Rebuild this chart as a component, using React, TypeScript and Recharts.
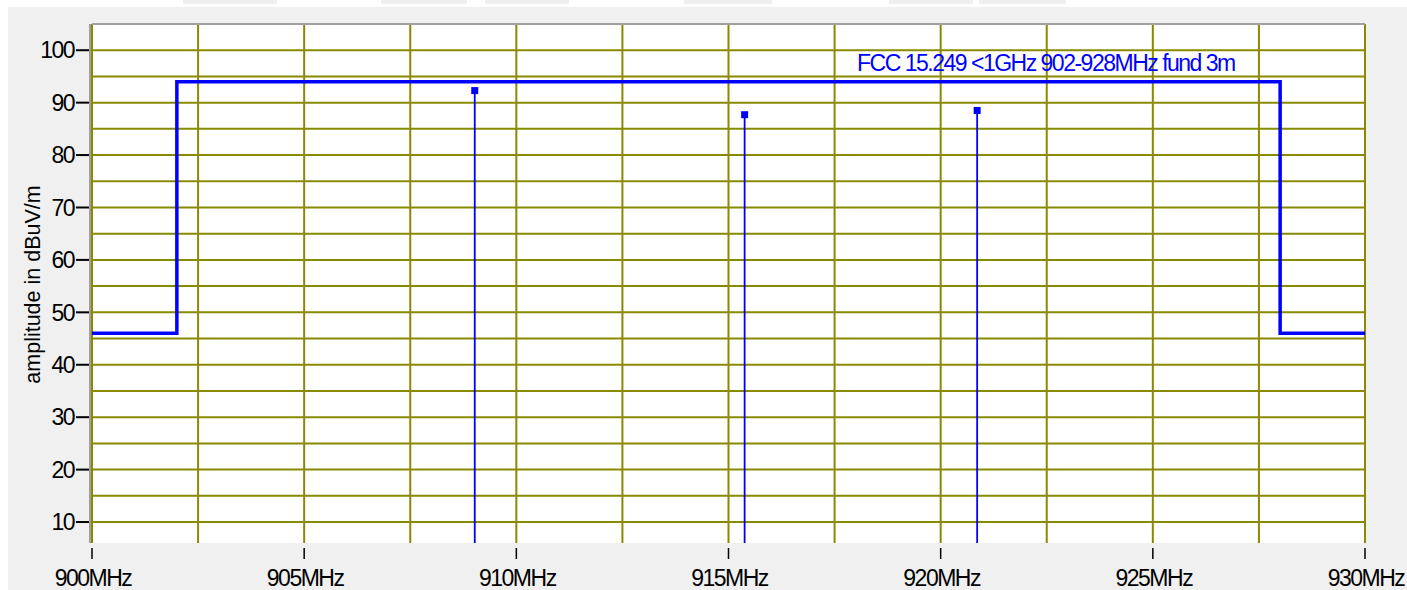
import React from 'react';
import {
  ComposedChart,
  Line,
  Scatter,
  XAxis,
  YAxis,
  CartesianGrid,
  ReferenceLine,
  Label,
} from 'recharts';

// ---- data ----
const limitFreq = [900, 902, 902, 928, 928, 930];
const limitLevel = [46, 46, 94, 94, 46, 46];
const peakFreq = [909.02, 915.38, 920.86];
const peakLevel = [92.3, 87.7, 88.5];
const xTicks = [900, 905, 910, 915, 920, 925, 930];
const yTicks = [10, 20, 30, 40, 50, 60, 70, 80, 90, 100];
const xGrid = [900, 902.5, 905, 907.5, 910, 912.5, 915, 917.5, 920, 922.5, 925, 927.5, 930];
const yGrid = [10, 15, 20, 25, 30, 35, 40, 45, 50, 55, 60, 65, 70, 75, 80, 85, 90, 95, 100];
const xDomain = [900, 930];
const yDomain = [6, 105];
const limitLabel = 'FCC 15.249 <1GHz 902-928MHz fund 3m';
const limitLabelFreq = [918.03];
const limitLabelLevel = [96.0];
const yAxisTitle = 'amplitude in dBuV/m';
const xUnit = 'MHz';

const limitData = limitFreq.map((f, i) => ({ f, v: limitLevel[i] }));
const peakData = peakFreq.map((f, i) => ({ f, v: peakLevel[i] }));
const labelData = limitLabelFreq.map((f, i) => ({ f, v: limitLabelLevel[i] }));

const FONT = "'Liberation Sans', Arial, Helvetica, sans-serif";
const BLUE = '#0000ff';
const GRID = '#8a8a00';

const XTick = (props: any) => {
  const { x, y, payload } = props;
  return (
    <g>
      <line x1={x} x2={x} y1={y + 5} y2={y + 16} stroke="#000" strokeWidth={1.5} />
      <text
        x={x + 1}
        y={y + 43}
        textAnchor="middle"
        fontSize={23}
        letterSpacing={-1.5}
        fontFamily={FONT}
        fill="#000"
      >
        {`${payload.value}${xUnit}`}
      </text>
    </g>
  );
};

const YTick = (props: any) => {
  const { x, y, payload } = props;
  return (
    <g>
      <line x1={x - 16} x2={x - 3} y1={y} y2={y} stroke="#000" strokeWidth={2} />
      <text
        x={x - 18}
        y={y}
        dy="0.36em"
        textAnchor="end"
        fontSize={23}
        letterSpacing={-1.5}
        fontFamily={FONT}
        fill="#000"
      >
        {payload.value}
      </text>
    </g>
  );
};

const PeakMarker = (props: any) => {
  const { cx, cy } = props;
  return <rect x={cx - 3.5} y={cy - 3.5} width={7} height={7} fill={BLUE} />;
};

const LimitText = (props: any) => {
  const { cx, cy } = props;
  return (
    <text x={cx} y={cy} fontSize={23} letterSpacing={-1.5} fontFamily={FONT} fill={BLUE}>
      {limitLabel}
    </text>
  );
};

const YTitle = (props: any) => {
  const vb = props.viewBox || { x: 12, y: 24, width: 80, height: 519 };
  const cx = vb.x + 20;
  const cy = vb.y + vb.height / 2 + 1;
  return (
    <text
      x={cx}
      y={cy}
      transform={`rotate(-90, ${cx}, ${cy})`}
      textAnchor="middle"
      dy="0.36em"
      fontSize={21.5}
      fontFamily={FONT}
      fill="#000"
    >
      {yAxisTitle}
    </text>
  );
};

const tabs = [
  [183, 94],
  [381, 86],
  [485, 84],
  [684, 88],
  [889, 84],
  [979, 87],
];

export default function App() {
  return (
    <div style={{ position: 'absolute', left: 0, top: 0, width: 1407, height: 590, background: '#fff', overflow: 'hidden' }}>
      {tabs.map(([l, w], i) => (
        <div key={i} style={{ position: 'absolute', left: l, top: 0, width: w, height: 4, background: '#efefef' }} />
      ))}
      <div style={{ position: 'absolute', left: 8, top: 7, width: 1399, height: 583, background: '#f0f0f0' }} />
      <div style={{ position: 'absolute', left: 0, top: 0 }}>
        <ComposedChart
          width={1407}
          height={590}
          margin={{ top: 24, right: 42, bottom: 0, left: 12 }}
        >
          <CartesianGrid
            horizontalValues={yGrid}
            verticalValues={xGrid}
            stroke={GRID}
            strokeWidth={2}
            fill="#ffffff"
            fillOpacity={1}
          />
          <XAxis
            type="number"
            dataKey="f"
            domain={xDomain}
            ticks={xTicks}
            allowDataOverflow
            height={47}
            tickSize={0}
            tickMargin={0}
            axisLine={false}
            tickLine={false}
            tick={<XTick />}
            interval={0}
          />
          <YAxis
            type="number"
            dataKey="v"
            domain={yDomain}
            ticks={yTicks}
            allowDataOverflow
            width={80}
            tickSize={0}
            tickMargin={0}
            axisLine={{ stroke: '#a0a0a0', strokeWidth: 2, transform: 'translate(-2,0)' }}
            tickLine={false}
            tick={<YTick />}
            interval={0}
          >
            <Label content={<YTitle />} />
          </YAxis>
          <ReferenceLine y={yDomain[1]} stroke="#a0a0a0" strokeWidth={2} ifOverflow="visible" />
          {peakData.map((p, i) => (
            <ReferenceLine
              key={i}
              segment={[
                { x: p.f, y: yDomain[0] },
                { x: p.f, y: p.v },
              ]}
              stroke={BLUE}
              strokeWidth={1.8}
              ifOverflow="visible"
            />
          ))}
          <Line
            data={limitData}
            dataKey="v"
            type="linear"
            stroke={BLUE}
            strokeWidth={3.5}
            dot={false}
            activeDot={false}
            isAnimationActive={false}
          />
          <Scatter data={peakData} dataKey="v" shape={<PeakMarker />} isAnimationActive={false} />
          <Scatter data={labelData} dataKey="v" shape={<LimitText />} isAnimationActive={false} />
        </ComposedChart>
      </div>
    </div>
  );
}
